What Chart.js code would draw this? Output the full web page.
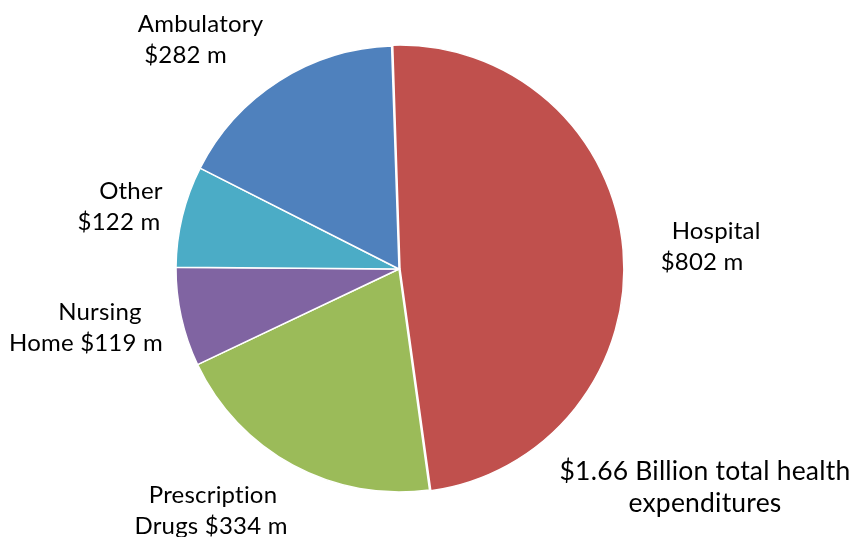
<!DOCTYPE html>
<html>
<head>
<meta charset="utf-8">
<script src="https://cdn.jsdelivr.net/npm/chart.js@4.4.1/dist/chart.umd.min.js"></script>
<style>
  html, body { margin: 0; padding: 0; background: #fff; }
  canvas { display: block; }
</style>
</head>
<body>
<canvas id="healthPie" width="856" height="537"></canvas>
<script>
// spending by category, $ millions
const categories = ["Hospital", "Prescription Drugs", "Nursing Home", "Other", "Ambulatory"];
const spending = [802, 334, 119, 122, 282];
const sliceColors = ["#C0504D", "#9BBB59", "#8064A2", "#4BACC6", "#4F81BD"];
const labelLines = [
    ["Hospital", "$802 m"],
    ["Prescription", "Drugs $334 m"],
    ["Nursing", "Home $119 m"],
    ["Other", "$122 m"],
    ["Ambulatory", "$282 m"]
];
const totalNote = ["$1.66 Billion total health", "expenditures"];

// label anchors in units of the pie radius, measured from the pie centre,
// plus a sideways nudge for the second line
const labelAnchor = [
    [1.422, -0.135, -14],
    [-0.834, 1.049, -2],
    [-1.341, 0.229, -14],
    [-1.202, -0.314, -12],
    [-0.890, -1.063, -15]
];
const noteAnchor = [1.372, 0.946];

const FONT = "Lato, 'Open Sans', sans-serif";

const pieLabels = {
    id: "pieLabels",
    afterDatasetsDraw(chart) {
        const ctx = chart.ctx;
        const arc = chart.getDatasetMeta(0).data[0];
        const cx = arc.x, cy = arc.y, r = arc.outerRadius;
        ctx.save();
        ctx.fillStyle = "#000";
        ctx.textAlign = "center";
        ctx.textBaseline = "alphabetic";
        ctx.letterSpacing = "0.2px"; // also keeps "ti" from joining
        ctx.font = "24px " + FONT;
        labelLines.forEach((lines, i) => {
            const [ax, ay, shift] = labelAnchor[i];
            const x = cx + ax * r, y = cy + ay * r;
            ctx.fillText(lines[0], x, y);
            ctx.fillText(lines[1], x + shift, y + 31);
        });
        ctx.font = "26.5px " + FONT;
        const nx = cx + noteAnchor[0] * r, ny = cy + noteAnchor[1] * r;
        ctx.fillText(totalNote[0], nx, ny);
        ctx.fillText(totalNote[1], nx, ny + 32);
        ctx.restore();
    }
};

new Chart(document.getElementById("healthPie").getContext("2d"), {
    type: "pie",
    data: {
        labels: categories,
        datasets: [{
            data: spending,
            backgroundColor: sliceColors,
            borderColor: "#ffffff",
            borderWidth: 1.5,
            offset: [4, 0, 0, 0, 0]
        }]
    },
    options: {
        responsive: false,
        animation: false,
        rotation: -1.9,
        radius: 223,
        layout: {
            padding: { left: 176, right: 234, top: 46, bottom: 45 }
        },
        plugins: {
            legend: { display: false },
            tooltip: { enabled: false }
        }
    },
    plugins: [pieLabels]
});
</script>
</body>
</html>
